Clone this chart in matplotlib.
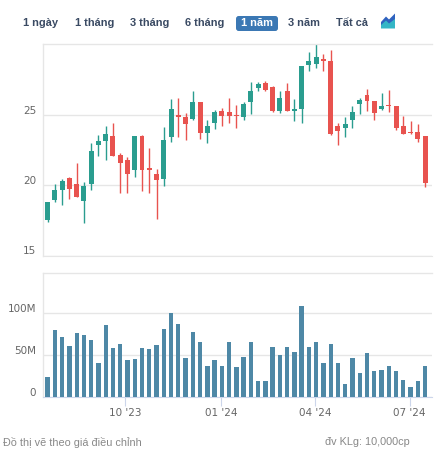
import numpy as np
import pandas as pd
import matplotlib
matplotlib.use("Agg")
import matplotlib.pyplot as plt
import matplotlib.dates as mdates
from matplotlib.patches import FancyBboxPatch, Polygon
from matplotlib.transforms import ScaledTranslation

# weekly candles, 1 year
week_start = "2023-07-18"
opens = [17.52, 18.95, 19.67, 20.52, 20.07, 18.90, 20.10, 22.90, 23.19, 23.50,
         22.14, 21.79, 21.12, 23.52, 21.24, 20.79, 20.48, 23.48, 25.00, 24.86,
         24.76, 25.95, 23.76, 24.43, 25.31, 25.24, 25.00, 24.88, 25.93, 26.98,
         27.31, 27.02, 25.33, 26.74, 25.33, 25.48, 28.60, 28.67, 29.02, 28.88,
         24.24, 24.10, 24.67, 25.81, 26.45, 26.02, 25.45, 25.74, 25.67, 24.24,
         23.81, 23.81, 23.52]
highs = [18.80, 20.07, 20.43, 20.60, 21.57, 20.26, 23.00, 23.57, 24.24, 24.43,
         22.29, 22.00, 23.55, 23.57, 22.71, 21.14, 24.14, 26.17, 26.24, 25.14,
         26.74, 25.95, 24.67, 25.38, 25.55, 26.24, 25.74, 25.95, 27.38, 27.38,
         27.45, 27.10, 26.74, 27.31, 26.17, 28.52, 29.52, 30.10, 29.38, 29.67,
         24.45, 24.88, 25.67, 26.24, 26.88, 26.02, 26.60, 26.81, 25.67, 24.95,
         24.60, 24.40, 23.52]
lows = [17.40, 18.83, 18.64, 19.05, 19.15, 17.29, 19.67, 22.10, 21.81, 22.10,
        19.48, 19.48, 20.62, 19.62, 19.48, 17.62, 19.98, 23.12, 23.48, 23.26,
        24.67, 23.31, 23.05, 24.00, 24.24, 24.48, 24.10, 24.67, 25.10, 26.74,
        26.76, 25.24, 25.14, 25.31, 24.60, 24.45, 28.17, 28.40, 28.17, 23.57,
        22.88, 23.45, 24.10, 25.10, 25.31, 24.67, 25.38, 25.24, 23.95, 23.69,
        23.67, 23.10, 19.90]
closes = [18.79, 19.71, 20.29, 19.76, 19.19, 19.95, 22.43, 23.14, 23.64, 22.12,
          21.62, 20.83, 23.55, 21.12, 21.12, 20.36, 23.24, 25.43, 24.86, 24.40,
          25.95, 23.76, 24.21, 25.24, 24.93, 24.93, 24.93, 25.81, 26.74, 27.24,
          26.81, 25.31, 26.24, 25.33, 25.45, 28.52, 28.88, 29.17, 28.90, 23.64,
          23.90, 24.38, 25.24, 26.10, 26.00, 25.19, 25.67, 25.64, 24.10, 23.69,
          23.74, 23.31, 20.19]
volumes_m = [24, 79.5, 72, 61, 76, 73.5, 67.5, 40, 85.5, 58,
             62.7, 44.6, 45.8, 58, 56.6, 61.4, 80.7, 100, 86.7, 47,
             77, 65, 37.3, 44.6, 37.3, 66, 36, 48, 65, 19.3,
             19.3, 59, 50.6, 59, 54, 108.4, 59, 66, 40, 62.7,
             41, 15.7, 47, 29, 51.8, 31.3, 32.5, 37.3, 31.3, 20.5,
             12, 19.3, 37.3]

price_ticks = [15, 20, 25]
vol_ticks = [0, 50, 100]
vol_tick_labels = ["0", "50M", "100M"]
x_tick_dates = ["2023-10-01", "2024-01-01", "2024-04-01", "2024-07-01"]
buttons = ["1 ngày", "1 tháng", "3 tháng", "6 tháng", "1 năm", "3 năm", "Tất cả"]
active_button = "1 năm"
footer_left = "Đồ thị vẽ theo giá điều chỉnh"
footer_right = "đv KLg: 10,000cp"

UP = "#2a9d8f"
DOWN = "#e8534f"
VOLC = "#4e88a6"
GRID = "#e6e6e6"
AXIS = "#ccd6eb"
LABEL = "#666666"

W, H = 445, 466
fig = plt.figure(figsize=(W / 100, H / 100), dpi=100)
fig.patch.set_facecolor("white")

def fx(px):
    return px / W

def fy(py):
    return 1 - py / H

dates = mdates.date2num(pd.date_range(week_start, periods=len(opens), freq="7D"))
o = np.array(opens); c = np.array(closes)
hi = np.array(highs); lo = np.array(lows)
up = c >= o
colors = np.where(up, UP, DOWN)

ax_p = fig.add_axes([fx(43.3), fy(255.5), fx(432) - fx(43.3), fy(44) - fy(255.5)])
ax_v = fig.add_axes([fx(43.3), fy(397), fx(432) - fx(43.3), fy(272.7) - fy(397)], sharex=ax_p)

# candles
ax_p.vlines(dates, lo, hi, colors=colors, linewidth=1.0, zorder=2)
body = np.maximum(np.abs(c - o), 0.07)
ax_p.bar(dates, body, bottom=np.minimum(o, c), width=4.8, color=colors, zorder=3)
ax_p.set_ylim(15, 30.1)
ax_p.set_yticks(price_ticks)

# volume
ax_v.bar(dates, volumes_m, width=4.2, color=VOLC, zorder=3)
ax_v.set_ylim(0, 148)
ax_v.set_yticks(vol_ticks)
ax_v.set_yticklabels(vol_tick_labels)

ax_v.set_xlim(dates[0] - 4.2, dates[0] + 370.7)
ax_v.set_xticks(mdates.date2num(pd.to_datetime(x_tick_dates)))
ax_v.xaxis.set_major_formatter(mdates.DateFormatter("%m '%y"))

shift = ScaledTranslation(0, 0.055, fig.dpi_scale_trans)
for ax in (ax_p, ax_v):
    ax.set_facecolor("white")
    ax.grid(axis="y", color=GRID, linewidth=1.0, zorder=0)
    ax.set_axisbelow(True)
    ax.spines["right"].set_visible(False)
    for s in ("left", "top"):
        ax.spines[s].set_color(GRID)
        ax.spines[s].set_linewidth(1.0)
    ax.spines["bottom"].set_color(AXIS)
    ax.tick_params(axis="y", length=0, pad=5, labelsize=7.5, labelcolor=LABEL)
    for lab in ax.get_yticklabels():
        lab.set_transform(lab.get_transform() + shift)
ax_p.spines["bottom"].set_color(GRID)
ax_p.tick_params(axis="x", length=0, labelbottom=False)
ax_v.tick_params(axis="x", length=6.3, width=0.8, color=AXIS, pad=1.5,
                 labelsize=7.5, labelcolor=LABEL)

# range buttons
btn_x = [40.8, 94.2, 149.3, 204.8, 256.5, 304.3, 352.5]
for name, bx in zip(buttons, btn_x):
    active = name == active_button
    if active:
        fig.patches.append(FancyBboxPatch((fx(236), fy(31)), fx(278) - fx(236), fy(16) - fy(31),
                                          boxstyle="round,pad=0,rounding_size=0.006",
                                          transform=fig.transFigure, facecolor="#3b78b4",
                                          edgecolor="none"))
    fig.text(fx(bx), fy(23.3), name, ha="center", va="center", fontsize=7.9,
             family="Liberation Sans", fontweight="bold",
             color="white" if active else "#3a4a63")

# small area-chart icon
lower = [(381, 28.5), (381, 23), (386, 19), (389, 22), (395, 17), (395, 28.5)]
upper = [(381, 22), (386, 16.5), (389, 19.5), (395, 13.5), (395, 19), (389, 23.5), (386, 20.5), (381, 25)]
fig.patches.append(Polygon([(fx(a), fy(b)) for a, b in lower], closed=True,
                           transform=fig.transFigure, facecolor="#34b6c6", edgecolor="none"))
fig.patches.append(Polygon([(fx(a), fy(b)) for a, b in upper], closed=True,
                           transform=fig.transFigure, facecolor="#2f62bf", edgecolor="none"))

fig.text(fx(3), fy(442), footer_left, ha="left", va="center", fontsize=7.8,
         family="Liberation Sans", color="#888888")
fig.text(fx(325), fy(442), footer_right, ha="left", va="center", fontsize=7.8,
         family="Liberation Sans", color="#888888")

fig.savefig("out.png", dpi=100)
